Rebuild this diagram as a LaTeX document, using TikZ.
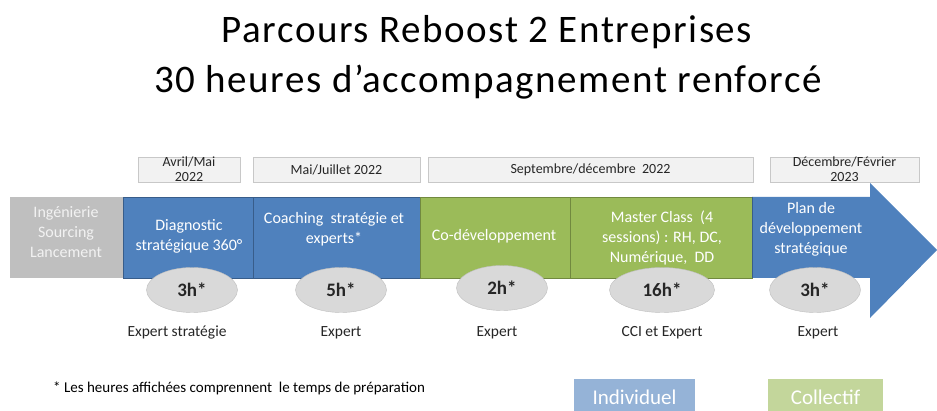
\documentclass[tikz,border=0pt]{standalone}
\usepackage{fontspec}
\setmainfont{Carlito}
\usetikzlibrary{shapes.geometric}
\definecolor{cblue}{HTML}{4F81BD}
\definecolor{cbluedark}{HTML}{385D8A}
\definecolor{cgreen}{HTML}{9BBB59}
\definecolor{cgreendark}{HTML}{71893F}
\definecolor{cgray}{HTML}{BFBFBF}
\definecolor{datefill}{HTML}{F2F2F2}
\definecolor{dateline}{HTML}{C8C8C8}
\definecolor{ellfill}{HTML}{D9D9D9}
\definecolor{ellline}{HTML}{BFBFBF}
\definecolor{lblue}{HTML}{95B3D7}
\definecolor{lgreen}{HTML}{C3D69B}
\definecolor{txtdark}{HTML}{262626}
\tikzset{
  x=1pt, y=-1pt,
  phase/.style={draw=#1, line width=0.8pt},
  boxtext/.style={text=white, align=center, font=\fontsize{16}{20}\selectfont},
  datebox/.style={draw=dateline, fill=datefill, line width=0.6pt},
  datetext/.style={text=txtdark, align=center, font=\fontsize{14}{15}\selectfont},
  hours/.style={ellipse, draw=ellline, fill=ellfill, minimum width=91pt, minimum height=45pt, inner sep=0pt, text=txtdark, font=\fontsize{19}{20}\selectfont\bfseries},
  who/.style={text=txtdark, anchor=base, font=\fontsize{15.5}{18}\selectfont},
  legend/.style={text=white, anchor=base, font=\fontsize{21}{24}\selectfont},
  titletext/.style={anchor=base, text=black, font=\fontsize{39}{42}\selectfont\addfontfeature{LetterSpace=4}}
}
\begin{document}
\begin{tikzpicture}
\useasboundingbox (0,0) rectangle (937,411);
% title
\node[titletext] (t1) at (487,43) {Parcours Reboost 2 Entreprises};
\node[titletext] (t2) at (488,93) {30 heures d’accompagnement renforcé};
% date boxes
\draw[datebox] (138,157) rectangle (240,182);
\node[datetext] (d1) at (189,169.5) {Avril/Mai\\2022};
\draw[datebox] (253,157) rectangle (420,182);
\node[datetext] (d2) at (336.5,169.5) {Mai/Juillet 2022};
\draw[datebox] (428,157) rectangle (753,182);
\node[datetext] (d3) at (590.5,169.5) {Septembre/décembre\ \ 2022};
% arrow (last phase)
\fill[cblue] (752,197) -- (870,197) -- (870,183) -- (937,250) -- (870,318) -- (870,278) -- (752,278) -- cycle;
\draw[datebox] (770,157) rectangle (919,182);
\node[datetext] (d4) at (844.5,169.5) {Décembre/Février\\2023};
% phases
\fill[cgray] (10,197) rectangle (123,278);
\draw[phase=cbluedark, fill=cblue] (123,197) rectangle (253,278);
\draw[phase=cbluedark, fill=cblue] (253,197) rectangle (420,278);
\draw[phase=cgreendark, fill=cgreen] (420,197) rectangle (570,278);
\draw[phase=cgreendark, fill=cgreen] (570,197) rectangle (752,278);
\draw[cbluedark, line width=0.8pt] (752,197) -- (752,278);
\node[boxtext, text=white!90!gray] (p0) at (66,232) {Ingénierie\\Sourcing\\Lancement};
\node[boxtext] (p1) at (189,236) {Diagnostic\\stratégique 360°};
\node[boxtext] (p2) at (334,229.5) {Coaching\ \ stratégie et\\experts*};
\node[boxtext] (p3) at (494,236) {Co-développement};
\node[boxtext] (p4) at (662,237.5) {Master Class\ \ (4\\sessions) : RH, DC,\\Numérique,\ \ DD};
\node[boxtext] (p5) at (811,229.5) {Plan de\\développement\\stratégique};
% hours
\node[hours] (h1) at (192,290) {3h*};
\node[hours] (h2) at (341,290) {5h*};
\node[hours] (h3) at (502,288) {2h*};
\node[hours, minimum width=105pt] (h4) at (662,290) {16h*};
\node[hours] (h5) at (815,290) {3h*};
% who
\node[who] (w1) at (177,337) {Expert stratégie};
\node[who] (w2) at (341,337) {Expert};
\node[who] (w3) at (497,337) {Expert};
\node[who] (w4) at (662,337) {CCI et Expert};
\node[who] (w5) at (818,337) {Expert};
% footnote
\node[anchor=base west, inner sep=0pt, text=black, font=\fontsize{15}{17}\selectfont] (fn) at (53,392) {* Les heures affichées comprennent\ \ le temps de préparation};
% legend
\fill[lblue] (574,379) rectangle (695,415);
\node[legend] (l1) at (634.5,405) {Individuel};
\fill[lgreen] (768,379) rectangle (883,415);
\node[legend] (l2) at (825.5,405) {Collectif};
\end{tikzpicture}
\end{document}
